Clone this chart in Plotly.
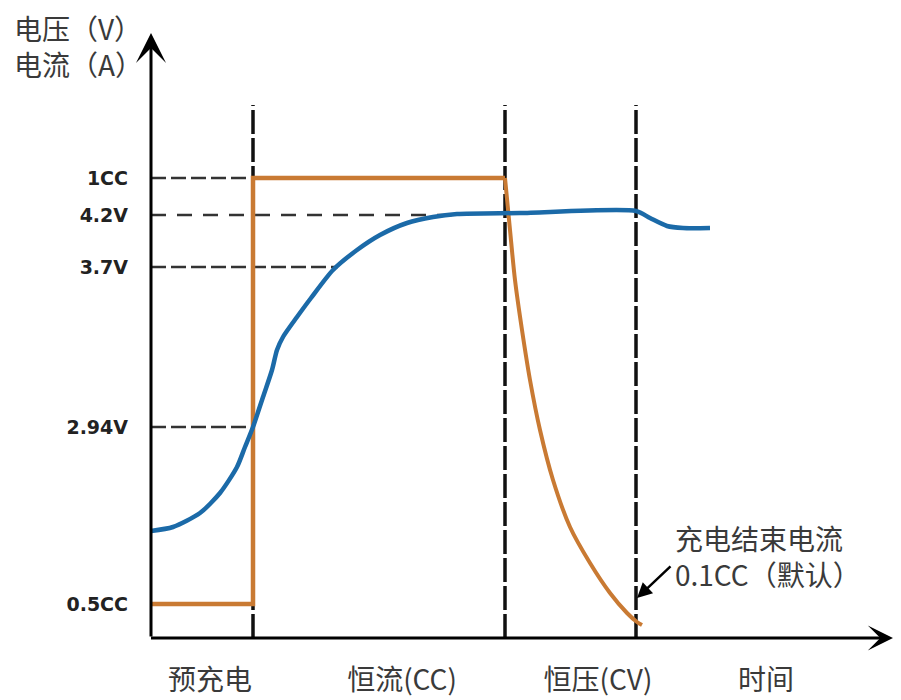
import plotly.graph_objects as go

# ---- data (arbitrary time / level units) ----
level_labels = ["1CC", "4.2V", "3.7V", "2.94V", "0.5CC"]
level_values = [460, 423, 371, 211, 34]

phase_labels = ["预充电", "恒流(CC)", "恒压(CV)", "时间"]
phase_label_pos = [59, 251, 447, 615]
phase_bounds = [102, 354, 485]
phase_line_top = 533

ref_levels = [460, 423, 371, 211]
ref_ends = [102, 302, 187, 104]
ref_dash = ["15px,5px", "15px,11px", "15px,5px", "15px,5px"]

voltage_t = [0, 22, 49, 69, 86, 94, 102, 112, 121, 126, 132, 146, 160, 182, 206,
             229, 256, 282, 306, 369, 485, 499, 516, 532, 559]
voltage_v = [107, 111, 125, 145, 171, 191, 211, 241, 268, 288, 301, 321, 340, 368, 388,
             403, 415, 421, 424, 425, 427, 420, 412, 410, 410]

current_step_t = [0, 102, 102, 354]
current_step_i = [34, 34, 460, 460]
current_cv_t = [354, 359, 364, 371, 379, 389, 402, 419, 439, 459, 476, 486, 491]
current_cv_i = [460, 408, 358, 308, 258, 208, 158, 111, 75, 45, 25, 16, 13]

end_point = (486, 40)
note_tail = (521, 73)
axis_x_end = 742
axis_y_end = 605

BLUE = "#1b6aa8"
ORANGE = "#c97a33"
TXT = "#3a3a3a"
CJK = "Noto Sans CJK SC"

# plot area geometry (page offset of 8px compensated)
L, T, PW, PH = 137, 20, 752, 617
W, H = 901, 700


def paper_x(vx):
    return (vx - 8 - L) / PW


def paper_y(vy):
    return (T + PH - (vy - 8)) / PH


fig = go.Figure()

# reference dashed lines
for lv, xe, d in zip(ref_levels, ref_ends, ref_dash):
    fig.add_trace(go.Scatter(x=[0, xe], y=[lv, lv], mode="lines",
                             line=dict(color="#333333", width=2.5, dash=d),
                             hoverinfo="skip", showlegend=False))

# phase boundary lines
for xb in phase_bounds:
    fig.add_trace(go.Scatter(x=[xb, xb], y=[0, phase_line_top], mode="lines",
                             line=dict(color="#111111", width=3.5, dash="24px,4px"),
                             hoverinfo="skip", showlegend=False))

# current (orange)
fig.add_trace(go.Scatter(x=current_step_t, y=current_step_i, mode="lines",
                         line=dict(color=ORANGE, width=4.5),
                         hoverinfo="skip", showlegend=False))
fig.add_trace(go.Scatter(x=current_cv_t, y=current_cv_i, mode="lines",
                         line=dict(color=ORANGE, width=4, shape="spline", smoothing=0.8),
                         hoverinfo="skip", showlegend=False))

# voltage (blue)
fig.add_trace(go.Scatter(x=voltage_t, y=voltage_v, mode="lines",
                         line=dict(color=BLUE, width=4.5, shape="spline", smoothing=0.7),
                         hoverinfo="skip", showlegend=False))

annotations = [
    # axes with arrowheads
    dict(x=0, y=axis_y_end, ax=0, ay=0, xref="x", yref="y", axref="x", ayref="y",
         text="", showarrow=True, arrowhead=3, arrowsize=1.67, arrowwidth=3,
         arrowcolor="#000000", standoff=0, startstandoff=0),
    dict(x=axis_x_end, y=0, ax=-1.5, ay=0, xref="x", yref="y", axref="x", ayref="y",
         text="", showarrow=True, arrowhead=3, arrowsize=1.4, arrowwidth=3,
         arrowcolor="#000000", standoff=0, startstandoff=0),
    # note arrow
    dict(x=end_point[0], y=end_point[1], ax=note_tail[0], ay=note_tail[1],
         xref="x", yref="y", axref="x", ayref="y", text="", showarrow=True,
         arrowhead=2, arrowsize=1.2, arrowwidth=2.5, arrowcolor="#000000", standoff=0),
    # note text
    dict(x=522, y=82, xref="x", yref="y", xanchor="left", yanchor="middle",
         text="充电结束电流<br>0.1CC（默认）", showarrow=False, align="left",
         font=dict(family=CJK, size=28, color=TXT)),
    # y-axis title
    dict(x=paper_x(12), y=paper_y(46), xref="paper", yref="paper",
         xanchor="left", yanchor="middle",
         text="电压（V）<br>电流（A）", showarrow=False, align="left",
         font=dict(family=CJK, size=28, color=TXT)),
]

fig.update_layout(
    template="none",
    width=W, height=H,
    margin=dict(l=L, r=W - L - PW, t=T, b=H - T - PH, pad=0),
    paper_bgcolor="white", plot_bgcolor="white",
    showlegend=False,
    annotations=annotations,
    xaxis=dict(range=[-6, 746], showgrid=False, zeroline=False, showline=False,
               automargin=False,
               tickmode="array", tickvals=phase_label_pos, ticktext=phase_labels,
               ticks="", ticklabelstandoff=16,
               tickfont=dict(family=CJK, size=28, color=TXT), fixedrange=True),
    yaxis=dict(range=[-7, 610], showgrid=False, zeroline=False, showline=False,
               automargin=False,
               tickmode="array", tickvals=level_values, ticktext=level_labels,
               ticks="", ticklabelstandoff=16,
               tickfont=dict(family="DejaVu Sans", size=19, color="#222222", weight="bold"),
               fixedrange=True),
)

fig.write_html("out.html", config={"displayModeBar": False})
